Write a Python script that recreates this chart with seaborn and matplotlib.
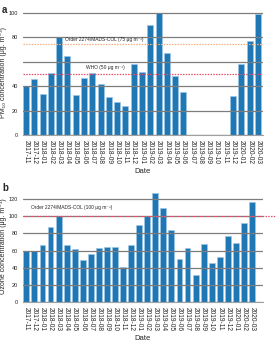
import numpy as np
import pandas as pd
import matplotlib
matplotlib.use("Agg")
import matplotlib.pyplot as plt
import seaborn as sns

dates = ["2017-11", "2017-12", "2018-01", "2018-02", "2018-03", "2018-04", "2018-05",
         "2018-06", "2018-07", "2018-08", "2018-09", "2018-10", "2018-11", "2018-12",
         "2019-01", "2019-02", "2019-03", "2019-04", "2019-05", "2019-06", "2019-07",
         "2019-08", "2019-09", "2019-10", "2019-11", "2019-12", "2020-01", "2020-02",
         "2020-03"]
pm10 = [40, 46, 34, 50.5, 80, 65, 33, 47, 50.5, 41.5, 31.5, 27, 24, 58,
        51.5, 90, 100, 67, 48, 35.5, np.nan, np.nan, np.nan, np.nan, np.nan,
        32, 58, 77, 99]
ozone = [60, 60, 66.5, 88, 100, 66, 61.5, 49, 55.5, 62.5, 64.5, 64, 40.5, 66.5,
         90.5, 100, 127, 110, 84, 50, 63.5, 31, 67.5, 45, 52, 77, 69, 92, 117]

pm_yticks = [0, 20, 40, 60, 80, 100]
pm_yticklabels = ["0", "20", "40", "", "80", "100"]
oz_yticks = [0, 20, 40, 60, 80, 100, 120]

df = pd.DataFrame({"Date": dates, "pm10": pm10, "ozone": ozone})

sns.set_style("white")
plt.rcParams["font.family"] = ["Liberation Sans", "DejaVu Sans"]

BAR = "#1f77b4"
EDGE = "#9cc6e6"
GRID = "#7d7d7d"

fig = plt.figure(figsize=(2.76, 3.46), dpi=100)
ax1 = fig.add_axes([0.0833, 0.6098, 0.8696, 0.3595])
ax2 = fig.add_axes([0.0823, 0.128, 0.8696, 0.3205])


def style(ax, yticks, ylabels, ylim, xlim, ylabel):
    ax.set_ylim(*ylim)
    ax.set_xlim(*xlim)
    ax.set_yticks(yticks)
    ax.set_yticklabels(ylabels, fontsize=4)
    ax.set_xticks(range(len(dates)))
    ax.set_xticklabels(dates, rotation=-90, fontsize=4.8)
    for s in ["left", "top", "right"]:
        ax.spines[s].set_visible(False)
    ax.spines["bottom"].set_color("#a0a0a0")
    ax.spines["bottom"].set_linewidth(0.8)
    ax.tick_params(axis="y", length=2.5, width=0.6, color=GRID, pad=1)
    ax.tick_params(axis="x", length=2, width=0.5, color="#a0a0a0", pad=1.5)
    ax.yaxis.grid(True, color=GRID, linewidth=0.9)
    ax.set_axisbelow(False)
    ax.set_ylabel(ylabel, fontsize=5, labelpad=1)
    ax.set_xlabel("Date", fontsize=5.5, labelpad=3)


sns.barplot(data=df, x="Date", y="pm10", order=dates, color=BAR, width=0.73,
            saturation=1, edgecolor=EDGE, linewidth=0.5, errorbar=None, ax=ax1)
style(ax1, pm_yticks, pm_yticklabels, (0, 102), (-0.36, 28.6),
      "PM\u2081\u2080 concentration (\u03bcg. m\u207b\u00b3)")
ax1.axhline(75, color="#f6b07e", linestyle=(0, (1.2, 1)), linewidth=0.9, zorder=3)
ax1.axhline(50, color="#e8506a", linestyle=(0, (1.2, 1)), linewidth=0.9, zorder=3)
ax1.text(4.68, 78, "Order 2274/MADS-COL (75 \u03bcg m\u207b\u00b3)", fontsize=3.5,
         va="center", ha="left")
ax1.text(9.55, 55, "WHO (50 \u03bcg m\u207b\u00b3)", fontsize=3.5, va="center", ha="center")

sns.barplot(data=df, x="Date", y="ozone", order=dates, color=BAR, width=0.73,
            saturation=1, edgecolor=EDGE, linewidth=0.5, errorbar=None, ax=ax2)
style(ax2, oz_yticks, [str(t) for t in oz_yticks], (0, 130), (-0.45, 29.33),
      "Ozone concentration (\u03bcg. m\u207b\u00b3)")
ax2.axhline(100, xmax=1.055, color="#e8506a", linestyle=(0, (1.2, 1)), linewidth=0.9,
            zorder=3, clip_on=False)
ax2.text(0.58, 110, "Order 2274/MADS-COL (100 \u03bcg m\u207b\u00b3)", fontsize=3.5,
         va="center", ha="left")

fig.text(0.008, 0.985, "a", fontsize=7, fontweight="bold", va="top", ha="left")
fig.text(0.008, 0.47, "b", fontsize=7, fontweight="bold", va="top", ha="left")

fig.savefig("out.png", dpi=100)
